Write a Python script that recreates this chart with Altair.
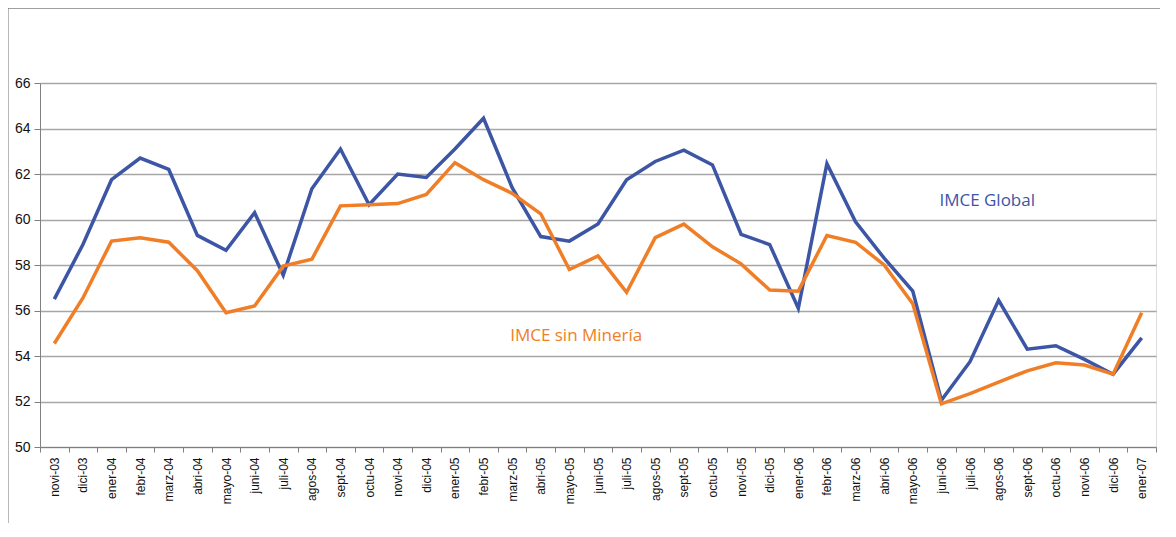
import altair as alt
import pandas as pd

months = ["novi-03", "dici-03", "ener-04", "febr-04", "marz-04", "abri-04", "mayo-04",
          "juni-04", "juli-04", "agos-04", "sept-04", "octu-04", "novi-04", "dici-04",
          "ener-05", "febr-05", "marz-05", "abri-05", "mayo-05", "juni-05", "juli-05",
          "agos-05", "sept-05", "octu-05", "novi-05", "dici-05", "ener-06", "febr-06",
          "marz-06", "abri-06", "mayo-06", "juni-06", "juli-06", "agos-06", "sept-06",
          "octu-06", "novi-06", "dici-06", "ener-07"]

imce_global = [56.5, 58.9, 61.75, 62.7, 62.2, 59.3, 58.65, 60.3, 57.55, 61.35, 63.1, 60.65,
               62.0, 61.85, 63.1, 64.45, 61.4, 59.25, 59.05, 59.8, 61.75, 62.55, 63.05, 62.4,
               59.35, 58.9, 56.1, 62.45, 59.9, 58.3, 56.85, 52.05, 53.75, 56.45, 54.3,
               54.45, 53.85, 53.2, 54.8]

imce_sin_mineria = [54.55, 56.55, 59.05, 59.2, 59.0, 57.75, 55.9, 56.2, 57.95, 58.25, 60.6,
                    60.65, 60.7, 61.1, 62.5, 61.75, 61.15, 60.25, 57.8, 58.4, 56.8, 59.2,
                    59.8, 58.8, 58.05, 56.9, 56.85, 59.3, 59.0, 58.0, 56.3, 51.9, 52.35,
                    52.85, 53.35, 53.7, 53.6, 53.2, 55.9]

series_names = ["IMCE Global", "IMCE sin Minería"]
series_colors = ["#3C55A5", "#F07E26"]

label_months = ["juni-06", "marz-05"]
label_values = [60.8, 54.9]

rows = []
for m, g, s in zip(months, imce_global, imce_sin_mineria):
    rows.append({"mes": m, "valor": g, "serie": series_names[0]})
    rows.append({"mes": m, "valor": s, "serie": series_names[1]})
df = pd.DataFrame(rows)

labels_df = pd.DataFrame({"mes": label_months, "valor": label_values, "serie": series_names})

x_enc = alt.X("mes:N", sort=months, bandPosition=0.5,
              scale=alt.Scale(type="band", paddingInner=0, paddingOuter=0),
              axis=alt.Axis(title=None, labelAngle=-90, labelFont="Liberation Sans",
                            labelFontSize=12, labelColor="#111111", labelPadding=5,
                            tickBand="extent", tickSize=5, tickColor="#808080",
                            domainColor="#808080", grid=False))
y_enc = alt.Y("valor:Q",
              scale=alt.Scale(domain=[50, 66], nice=False, zero=False),
              axis=alt.Axis(title=None, values=list(range(50, 67, 2)),
                            labelFont="Liberation Sans", labelFontSize=14,
                            labelColor="#111111", labelPadding=4,
                            tickSize=6, tickColor="#808080", domainColor="#808080",
                            grid=True, gridColor="#a6a6a6", gridWidth=1.5))
color_enc = alt.Color("serie:N", scale=alt.Scale(domain=series_names, range=series_colors),
                      legend=None)

lines = alt.Chart(df).mark_line(strokeWidth=3.5, strokeJoin="miter").encode(
    x=x_enc, y=y_enc, color=color_enc, order=alt.Order("serie:N"))

labels = alt.Chart(labels_df).mark_text(align="left", baseline="middle", dx=-2,
                                        font="Open Sans", fontSize=17).encode(
    x=alt.X("mes:N", sort=months, bandPosition=0.5),
    y=alt.Y("valor:Q"),
    text="serie:N",
    color=color_enc)

frame_src = pd.DataFrame({"a": [0]})
frame_left = alt.Chart(frame_src).mark_rule(color="#a0a0a0", strokeWidth=1.5).encode(
    x=alt.value(-32), y=alt.value(-75), y2=alt.value(440))
frame_top = alt.Chart(frame_src).mark_rule(color="#808080", strokeWidth=1.5).encode(
    x=alt.value(-32), x2=alt.value(1130), y=alt.value(-75))

chart = alt.layer(lines, labels, frame_left, frame_top).properties(
    width=1116, height=364,
    autosize=alt.AutoSizeParams(type="none"),
    padding={"left": 32, "top": 75, "right": 4, "bottom": 76},
).configure_view(stroke=None).configure(background="white")

chart.save("out.html", embed_options={"renderer": "svg", "actions": False})
